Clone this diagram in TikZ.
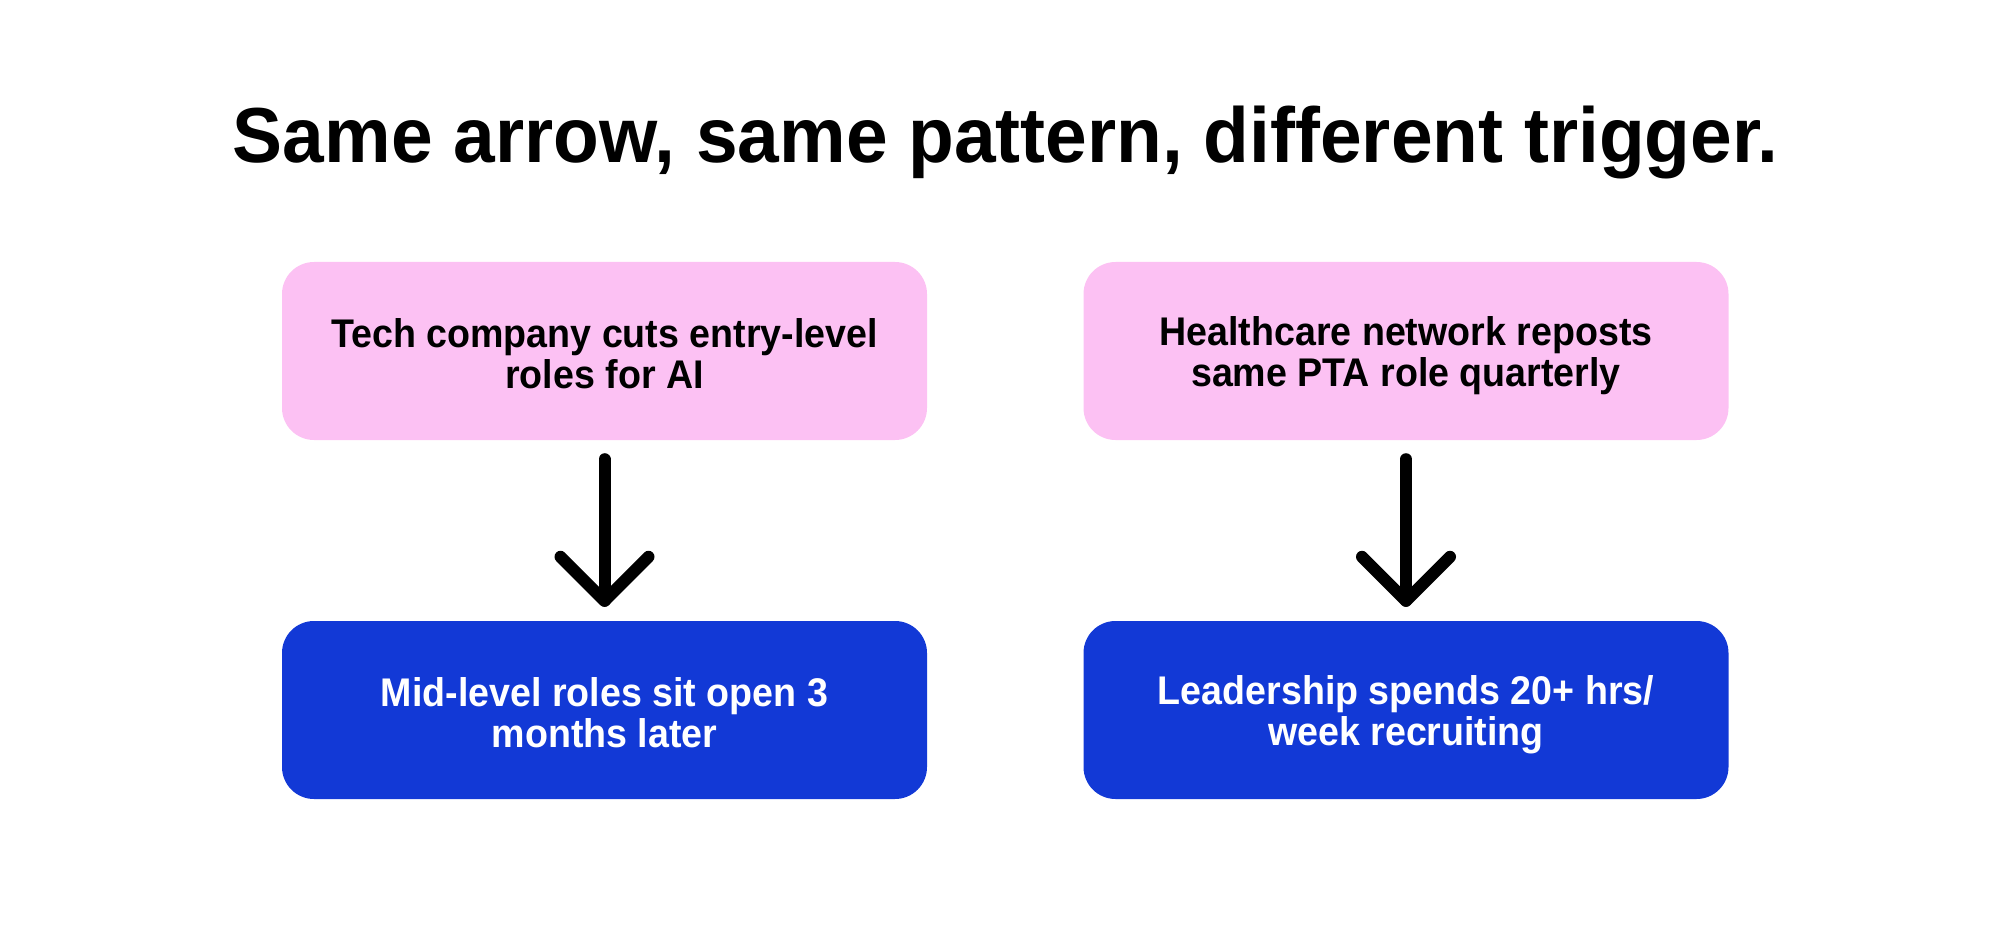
\documentclass[tikz,border=0pt]{standalone}
\usepackage{fontspec}
\setmainfont{Liberation Sans}
\newfontfamily\headfont{Liberation Sans}[FakeStretch=0.96]
\newfontfamily\cardfont{Liberation Sans}[FakeStretch=0.94]
\usetikzlibrary{positioning}
\definecolor{cardpink}{HTML}{FCC1F3}
\definecolor{cardblue}{HTML}{1239D6}
\newcommand{\twolines}[2]{\rule{0pt}{38pt}#1\\#2\rule[-5pt]{0pt}{5pt}}

\begin{document}
\begin{tikzpicture}[x=1pt, y=-1pt,
    card/.style={rounded corners=32pt, minimum width=645pt, minimum height=178pt,
                 inner sep=0pt, align=center, font=\cardfont\bfseries\fontsize{40}{41}\selectfont},
    cause/.style={card, fill=cardpink, text=black},
    effect/.style={card, fill=cardblue, text=white},
    flow/.style={line width=12pt, line cap=round, line join=round}]
    \useasboundingbox (0,0) rectangle (2011,928);
    \node[anchor=base, font=\headfont\bfseries\fontsize{78}{80}\selectfont] (title) at (1005.5,163)
      {Same arrow, same pattern, different trigger.};
    \foreach \x/\n/\why/\what in {604.5/1/{\twolines{Tech company cuts entry-level}{roles for AI}}/{\twolines{Mid-level roles sit open 3}{months later}},
                                1406/2/{\twolines{Healthcare network reposts}{same PTA role quarterly}}/{\twolines{Leadership spends 20+ hrs/}{week recruiting}}}{
      \node[cause] (c\n) at (\x,351) {\why};
      \node[effect] (e\n) at (\x,710) {\what};
      \draw[flow] ([yshift=-19pt]c\n.south) -- ([yshift=20pt]e\n.north) coordinate (tip\n);
      \draw[flow] ([shift={(-44,-44)}]tip\n) -- (tip\n) -- ++(44,-44);
    }
  \end{tikzpicture}
\end{document}
